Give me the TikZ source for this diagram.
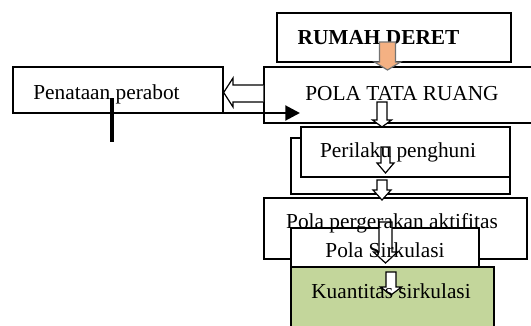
\documentclass[tikz,border=0pt]{standalone}
\usepackage{fontspec}
\setmainfont{Liberation Serif}
\usetikzlibrary{arrows.meta}
\pgfdeclarelayer{boxlayer}
\pgfdeclarelayer{arrowlayer}
\pgfsetlayers{boxlayer,arrowlayer,main}
\definecolor{Peach}{HTML}{F4B183}
\definecolor{Sage}{HTML}{C3D69B}
\tikzstyle{none}=[inner sep=0pt]
\tikzstyle{box}=[rectangle,draw=black,fill=white,line width=1pt,inner sep=0pt]
\tikzstyle{greenbox}=[box,fill=Sage]
\tikzstyle{txt}=[inner sep=0pt,anchor=base,font=\fontsize{16}{19}\selectfont]
\tikzstyle{hollow}=[draw=black,fill=white,line width=0.9pt,line join=miter]
\tikzstyle{peacharrow}=[draw=black!55,fill=Peach,line width=0.9pt,line join=miter]
\tikzstyle{thickarrow}=[-{Triangle[length=11pt,width=11pt]},draw=black,line width=2.2pt]
\tikzstyle{thickline}=[-,draw=black,line width=2.6pt]
% block arrow pointing down: style, x, top, head base, tip, shaft half, head half
\newcommand\blockdown[7]{\draw[style=#1] (#2-#6,#3) -- (#2+#6,#3) -- (#2+#6,#4) -- (#2+#7,#4)
  -- (#2,#5) -- (#2-#7,#4) -- (#2-#6,#4) -- cycle;}

\begin{document}
\begin{tikzpicture}[x=0.75pt,y=-0.75pt]
	\useasboundingbox (0,0) rectangle (531,325);
	\begin{pgfonlayer}{boxlayer}
		\node [style=box, minimum width=175.5pt, minimum height=36.75pt] (0) at (394, 37.5) {};
		\node [style=box, minimum width=207pt, minimum height=42pt] (1) at (402, 95) {};
		\node [style=box, minimum width=157.5pt, minimum height=34.5pt] (2) at (118, 90) {};
		\node [style=box, minimum width=164.25pt, minimum height=42pt] (3) at (400.5, 166) {};
		\node [style=box, minimum width=156.75pt, minimum height=37.5pt] (4) at (405.5, 152) {};
		\node [style=box, minimum width=197.25pt, minimum height=45.75pt] (5) at (395.5, 228.5) {};
		\node [style=box, minimum width=141pt, minimum height=29.25pt] (6) at (385, 247.5) {};
		\node [style=greenbox, minimum width=152.25pt, minimum height=51pt] (7) at (392.5, 301) {};
	\end{pgfonlayer}
	\node [style=txt] (10) at (378.5, 44) {\bfseries RUMAH DERET};
	\node [style=txt] (11) at (402, 100) {POLA TATA RUANG};
	\node [style=txt] (12) at (106.5, 99) {Penataan perabot};
	\node [style=txt] (13) at (398, 157) {Perilaku penghuni};
	\node [style=txt] (14) at (392, 228) {Pola pergerakan aktifitas};
	\node [style=txt] (15) at (385, 257) {Pola Sirkulasi};
	\node [style=txt] (16) at (391, 298) {Kuantitas sirkulasi};
	\node [style=none] (20) at (112, 98) {};
	\node [style=none] (21) at (112, 142) {};
	\node [style=none] (22) at (112, 113) {};
	\node [style=none] (23) at (300, 113) {};
	\begin{pgfonlayer}{arrowlayer}
		\blockdown{hollow}{382}{102}{120}{127}{5}{9.5}
		\blockdown{hollow}{385.5}{147}{163}{173}{4.5}{8.5}
		\blockdown{hollow}{382}{180}{190}{200}{5}{9}
		\blockdown{hollow}{385.5}{222}{252}{263}{6.5}{12}
		\blockdown{hollow}{391}{272}{287}{295}{5}{10.5}
		\draw [style=hollow] (1.west |- 0,85) -- (233,85) -- (233,78) -- (2.east |- 0,92.5)
			-- (233,107) -- (233,102) -- (1.west |- 0,102);
		\draw [style=thickline] (20.center) to (21.center);
		\draw [style=thickarrow] (22.center) to (23.center);
	\end{pgfonlayer}
	\blockdown{peacharrow}{387.5}{42}{62}{70}{8}{13}
\end{tikzpicture}
\end{document}
